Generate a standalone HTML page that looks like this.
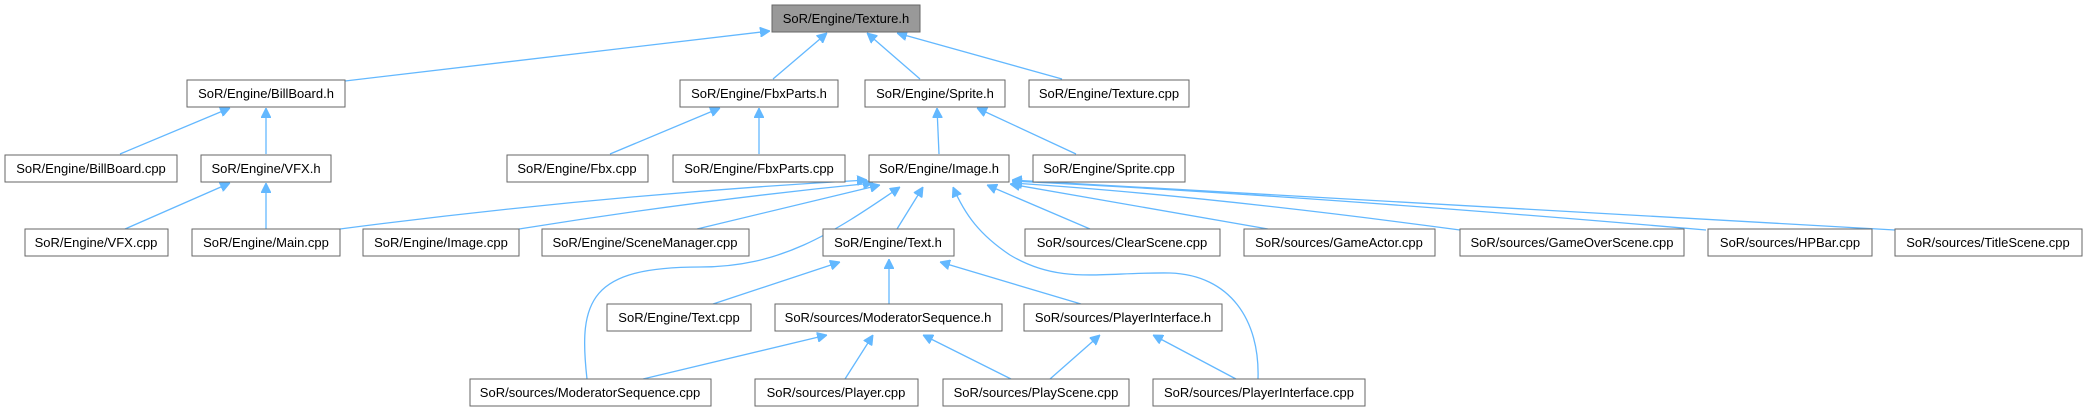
<!DOCTYPE html>
<html><head><meta charset="utf-8"><style>
html,body{margin:0;padding:0;background:#fff;}
svg{display:block}
text{font-family:"Liberation Sans",sans-serif;font-size:13px;fill:#000;text-anchor:middle}
rect{fill:#fff;stroke:#666;stroke-width:1}
path{fill:none;stroke:#63b8ff;stroke-width:1.3}
</style></head><body>
<svg width="2086" height="411" viewBox="0 0 2086 411" xmlns="http://www.w3.org/2000/svg">
<defs><marker id="a" viewBox="0 0 10 10" refX="10" refY="5" markerWidth="10" markerHeight="10" markerUnits="userSpaceOnUse" orient="auto"><path d="M0,0 L10,5 L0,10 z" style="fill:#63b8ff;stroke:#63b8ff;stroke-width:1"/></marker></defs>
<g marker-end="url(#a)">
<path d="M345,81 L770,31"/>
<path d="M773,79 L827,33"/>
<path d="M920,79 L867,33"/>
<path d="M1062,79 L897,33"/>
<path d="M120,154 L230,108"/>
<path d="M266,154 L266,108"/>
<path d="M610,154 L720,108"/>
<path d="M759,154 L759,108"/>
<path d="M939,154 L937,108"/>
<path d="M1076,154 L977,108"/>
<path d="M125,229 L230,183"/>
<path d="M266,229 L266,183"/>
<path d="M340,229 Q600,195 867,180"/>
<path d="M519,229 Q700,200 873,183"/>
<path d="M697,229 L880,185"/>
<path d="M587,379 C578,300 590,267 700,267 C780,267 830,235 900,187"/>
<path d="M897,229 L923,187"/>
<path d="M1258,379 C1260,320 1230,275 1170,273 C1100,272 1060,285 1010,255 C980,235 965,215 953,187"/>
<path d="M1090,229 L987,185"/>
<path d="M1268,229 L1010,184"/>
<path d="M1460,230 Q1200,195 1012,183"/>
<path d="M1706,230 Q1300,195 1012,181"/>
<path d="M1895,230 Q1400,200 1012,180"/>
<path d="M713,304 L840,262"/>
<path d="M889,304 L889,259"/>
<path d="M1081,304 L940,262"/>
<path d="M643,379 L827,335"/>
<path d="M845,379 L873,335"/>
<path d="M1011,379 L923,335"/>
<path d="M1050,379 L1100,335"/>
<path d="M1236,379 L1153,335"/>
</g>
<rect x="772" y="5" width="148" height="27" style="fill:#999"/><text x="846" y="23">SoR/Engine/Texture.h</text>
<rect x="187" y="80" width="158" height="27"/><text x="266" y="98">SoR/Engine/BillBoard.h</text>
<rect x="680" y="80" width="158" height="27"/><text x="759" y="98">SoR/Engine/FbxParts.h</text>
<rect x="865" y="80" width="140" height="27"/><text x="935" y="98">SoR/Engine/Sprite.h</text>
<rect x="1029" y="80" width="160" height="27"/><text x="1109" y="98">SoR/Engine/Texture.cpp</text>
<rect x="5" y="155" width="172" height="27"/><text x="91" y="173">SoR/Engine/BillBoard.cpp</text>
<rect x="201" y="155" width="130" height="27"/><text x="266" y="173">SoR/Engine/VFX.h</text>
<rect x="507" y="155" width="141" height="27"/><text x="577" y="173">SoR/Engine/Fbx.cpp</text>
<rect x="673" y="155" width="172" height="27"/><text x="759" y="173">SoR/Engine/FbxParts.cpp</text>
<rect x="869" y="155" width="140" height="27"/><text x="939" y="173">SoR/Engine/Image.h</text>
<rect x="1033" y="155" width="152" height="27"/><text x="1109" y="173">SoR/Engine/Sprite.cpp</text>
<rect x="25" y="229" width="143" height="27"/><text x="96" y="247">SoR/Engine/VFX.cpp</text>
<rect x="192" y="229" width="148" height="27"/><text x="266" y="247">SoR/Engine/Main.cpp</text>
<rect x="363" y="229" width="156" height="27"/><text x="441" y="247">SoR/Engine/Image.cpp</text>
<rect x="542" y="229" width="207" height="27"/><text x="645" y="247">SoR/Engine/SceneManager.cpp</text>
<rect x="823" y="229" width="131" height="27"/><text x="888" y="247">SoR/Engine/Text.h</text>
<rect x="1025" y="229" width="195" height="27"/><text x="1122" y="247">SoR/sources/ClearScene.cpp</text>
<rect x="1244" y="229" width="191" height="27"/><text x="1339" y="247">SoR/sources/GameActor.cpp</text>
<rect x="1460" y="229" width="224" height="27"/><text x="1572" y="247">SoR/sources/GameOverScene.cpp</text>
<rect x="1708" y="229" width="164" height="27"/><text x="1790" y="247">SoR/sources/HPBar.cpp</text>
<rect x="1895" y="229" width="187" height="27"/><text x="1988" y="247">SoR/sources/TitleScene.cpp</text>
<rect x="607" y="304" width="144" height="27"/><text x="679" y="322">SoR/Engine/Text.cpp</text>
<rect x="775" y="304" width="227" height="27"/><text x="888" y="322">SoR/sources/ModeratorSequence.h</text>
<rect x="1024" y="304" width="198" height="27"/><text x="1123" y="322">SoR/sources/PlayerInterface.h</text>
<rect x="470" y="379" width="241" height="27"/><text x="590" y="397">SoR/sources/ModeratorSequence.cpp</text>
<rect x="755" y="379" width="163" height="27"/><text x="836" y="397">SoR/sources/Player.cpp</text>
<rect x="943" y="379" width="186" height="27"/><text x="1036" y="397">SoR/sources/PlayScene.cpp</text>
<rect x="1153" y="379" width="212" height="27"/><text x="1259" y="397">SoR/sources/PlayerInterface.cpp</text>
</svg>
</body></html>
